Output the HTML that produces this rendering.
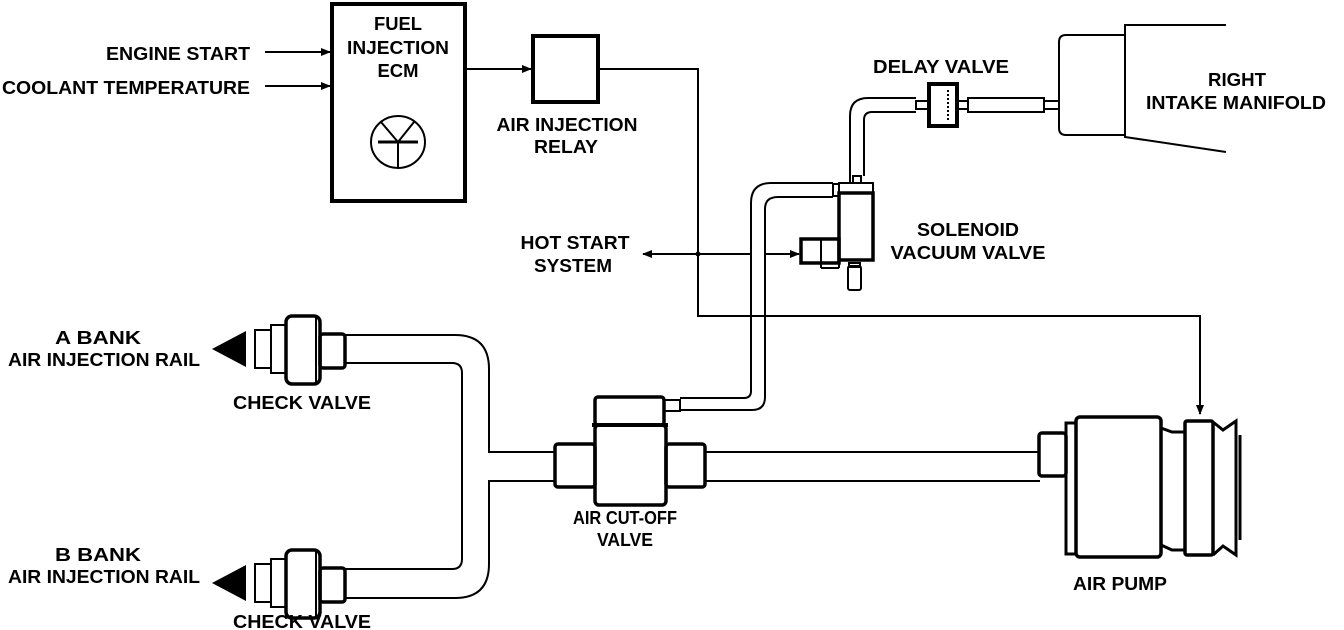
<!DOCTYPE html>
<html><head><meta charset="utf-8"><style>
html,body{margin:0;padding:0;background:#fff;}
svg{display:block}
text{font-family:"Liberation Sans",Arial,sans-serif;font-weight:bold;font-size:18px;fill:#000}
</style></head><body>
<svg width="1344" height="630" viewBox="0 0 1344 630" xmlns="http://www.w3.org/2000/svg">
<defs>
<marker id="ah" markerWidth="10" markerHeight="8" refX="9" refY="4" orient="auto" markerUnits="userSpaceOnUse">
<path d="M0,0 L10,4 L0,8 Z" fill="#000"/></marker>
</defs>
<g fill="none" stroke="#000" stroke-width="2">
<rect x="332" y="4" width="133" height="197" stroke-width="4"/>
<ellipse cx="398" cy="142" rx="27" ry="26" stroke-width="2"/>
<line x1="378" y1="142" x2="418" y2="142" stroke-width="3"/>
<line x1="398" y1="142" x2="398" y2="168"/>
<line x1="398" y1="142" x2="381" y2="122"/>
<line x1="398" y1="142" x2="414" y2="122"/>
<line x1="265" y1="52" x2="330" y2="52" marker-end="url(#ah)"/>
<line x1="265" y1="86" x2="330" y2="86" marker-end="url(#ah)"/>
<line x1="465" y1="69" x2="531" y2="69" marker-end="url(#ah)"/>
<rect x="533" y="36" width="65" height="66" stroke-width="4"/>
<polyline points="598,69 698,69 698,316 1200,316 1200,414" marker-end="url(#ah)"/>
<line x1="751" y1="254" x2="643" y2="254" marker-end="url(#ah)"/>
<line x1="765" y1="254" x2="799" y2="254" marker-end="url(#ah)"/>
<circle cx="698" cy="254" r="1.5" fill="#000"/>
<path d="M680,410 L752,410 Q765,410 765,397 L765,209 Q765,197 778,197 L833,197"/>
<path d="M680,398 L744,398 Q751,398 751,391 L751,203 Q751,183 771,183 L833,183"/>
<rect x="833" y="184" width="6" height="12"/>
<rect x="839" y="183" width="34" height="10"/>
<rect x="839" y="193" width="34" height="67" stroke-width="3.5"/>
<rect x="801" y="239" width="38" height="24" stroke-width="3.5"/>
<line x1="821" y1="239" x2="821" y2="268"/>
<line x1="821" y1="268" x2="839" y2="268"/>
<line x1="839" y1="260" x2="839" y2="268"/>
<rect x="848" y="266" width="13" height="24" rx="2"/>
<rect x="849" y="263" width="11" height="4"/>
<path d="M850,183 L850,116 Q850,98 868,98 L916,98"/>
<path d="M864,176 L864,120 Q864,112 872,112 L916,112"/>
<rect x="853" y="176" width="8" height="7"/>
<rect x="916" y="101" width="12" height="8"/>
<rect x="929" y="84" width="28" height="42" stroke-width="4"/>
<line x1="948" y1="90" x2="948" y2="120" stroke-dasharray="2,2"/>
<rect x="957" y="101" width="11" height="8"/>
<rect x="968" y="98" width="76" height="14"/>
<rect x="1044" y="101" width="15" height="8"/>
<path d="M1125,35 L1066,35 Q1059,35 1059,42 L1059,128 Q1059,135 1066,135 L1125,135"/>
<path d="M1226,25 L1125,25 L1125,137 L1226,152"/>
<g id="cvA">
<polygon points="212,349 246,331 246,367" fill="#000" stroke="none"/>
<rect x="255" y="330" width="16" height="38"/>
<rect x="271" y="325" width="15" height="48" stroke-width="2"/>
<rect x="286" y="316" width="34" height="68" rx="6" stroke-width="3.5"/>
<line x1="316" y1="318" x2="316" y2="382"/>
<rect x="320" y="334" width="25" height="34" rx="3" stroke-width="3.5"/>
</g>
<use href="#cvA" transform="translate(0,234)"/>
<path d="M345,335 L455,335 Q489,335 489,369 L489,452 L555,452"/>
<path d="M345,363 L452,363 Q462,363 462,373 L462,559 Q462,569 452,569 L345,569"/>
<path d="M345,598 L455,598 Q489,598 489,564 L489,481 L555,481"/>
<rect x="555" y="444" width="40" height="43" rx="3" stroke-width="3.5"/>
<rect x="595" y="425" width="71" height="80" rx="4" stroke-width="3.5"/>
<rect x="595" y="397" width="69" height="28" rx="3" stroke-width="3.5"/>
<line x1="592" y1="425" x2="668" y2="425" stroke-width="4"/>
<rect x="664" y="400" width="16" height="11"/>
<rect x="666" y="444" width="39" height="43" rx="3" stroke-width="3.5"/>
<line x1="705" y1="452" x2="1040" y2="452"/>
<line x1="705" y1="481" x2="1040" y2="481"/>
<rect x="1039" y="433" width="27" height="43" rx="3" stroke-width="3.5"/>
<path d="M1076,423 L1066,423 L1066,554 L1076,554" stroke-width="3"/>
<rect x="1076" y="417" width="85" height="140" rx="4" stroke-width="3.5"/>
<path d="M1161,428 L1172,432 L1185,432 M1161,545 L1172,550 L1185,550" stroke-width="3"/>
<rect x="1185" y="421" width="28" height="134" rx="2" stroke-width="3.5"/>
<path d="M1213,422 L1223,430 L1236,421 L1236,555 L1223,546 L1213,555" stroke-width="3"/>
<line x1="1240" y1="435" x2="1240" y2="540" stroke-width="3"/>
</g>
<text x="106" y="60" textLength="144" lengthAdjust="spacingAndGlyphs">ENGINE START</text>
<text x="2" y="94" textLength="248" lengthAdjust="spacingAndGlyphs">COOLANT TEMPERATURE</text>
<g text-anchor="middle">
<text x="398" y="30" textLength="48" lengthAdjust="spacingAndGlyphs">FUEL</text>
<text x="398" y="54" textLength="102" lengthAdjust="spacingAndGlyphs">INJECTION</text>
<text x="398" y="77" textLength="41" lengthAdjust="spacingAndGlyphs">ECM</text>
<text x="567" y="131" textLength="141" lengthAdjust="spacingAndGlyphs">AIR INJECTION</text>
<text x="566" y="153" textLength="64" lengthAdjust="spacingAndGlyphs">RELAY</text>
<text x="575" y="249" textLength="109" lengthAdjust="spacingAndGlyphs">HOT START</text>
<text x="573" y="272" textLength="78" lengthAdjust="spacingAndGlyphs">SYSTEM</text>
<text x="941" y="73" textLength="136" lengthAdjust="spacingAndGlyphs">DELAY VALVE</text>
<text x="1237" y="86" textLength="58" lengthAdjust="spacingAndGlyphs">RIGHT</text>
<text x="1236" y="109" textLength="180" lengthAdjust="spacingAndGlyphs">INTAKE MANIFOLD</text>
<text x="968" y="236" textLength="102" lengthAdjust="spacingAndGlyphs">SOLENOID</text>
<text x="968" y="259" textLength="155" lengthAdjust="spacingAndGlyphs">VACUUM VALVE</text>
<text x="98" y="344" textLength="86" lengthAdjust="spacingAndGlyphs">A BANK</text>
<text x="104" y="366" textLength="192" lengthAdjust="spacingAndGlyphs">AIR INJECTION RAIL</text>
<text x="302" y="409" textLength="138" lengthAdjust="spacingAndGlyphs">CHECK VALVE</text>
<text x="625" y="524" textLength="104" lengthAdjust="spacingAndGlyphs">AIR CUT-OFF</text>
<text x="625" y="546" textLength="56" lengthAdjust="spacingAndGlyphs">VALVE</text>
<text x="98" y="561" textLength="86" lengthAdjust="spacingAndGlyphs">B BANK</text>
<text x="104" y="583" textLength="192" lengthAdjust="spacingAndGlyphs">AIR INJECTION RAIL</text>
<text x="302" y="628" textLength="138" lengthAdjust="spacingAndGlyphs">CHECK VALVE</text>
<text x="1120" y="590" textLength="94" lengthAdjust="spacingAndGlyphs">AIR PUMP</text>
</g>
</svg>
</body></html>
